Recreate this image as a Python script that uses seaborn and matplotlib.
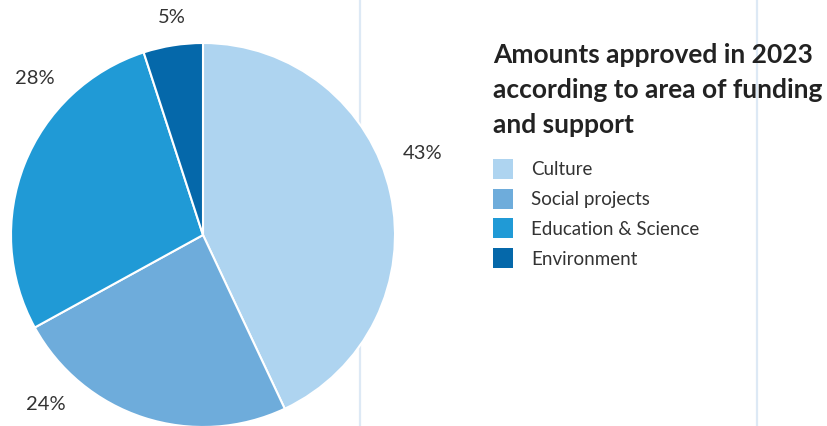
import numpy as np
import matplotlib
matplotlib.use("Agg")
import matplotlib.pyplot as plt
import seaborn as sns
from matplotlib.patches import Rectangle

categories = ["Culture", "Social projects", "Education & Science", "Environment"]
shares = [43, 24, 28, 5]
pct_labels = ["43%", "24%", "28%", "5%"]
colors = ["#aed4f0", "#6eacdb", "#209ad6", "#0568aa"]
title_lines = ["Amounts approved in 2023", "according to area of funding", "and support"]

sns.set_theme(style="white")
plt.rcParams["font.family"] = ["Lato", "DejaVu Sans"]

W, H = 827, 427
fig = plt.figure(figsize=(W / 100, H / 100), dpi=100)

# background axes for guide lines and legend
bg = fig.add_axes([0, 0, 1, 1], zorder=-1)
bg.set_xlim(0, W)
bg.set_ylim(H, 0)
bg.axis("off")
for xv in (360, 757):
    bg.axvline(xv, color="#dde9f5", lw=1.6)

# pie
cx, cy, r = 203, 236, 192
ax = fig.add_axes([(cx - r) / W, (H - cy - r) / H, 2 * r / W, 2 * r / H])
wedges, _ = ax.pie(shares, colors=colors, startangle=90, counterclock=False,
                   wedgeprops=dict(edgecolor="white", linewidth=1.5))
ax.set_xlim(-1, 1)
ax.set_ylim(-1, 1)
ax.set_aspect("equal")
ax.axis("off")

# label placement (angle in degrees, radius) per wedge
label_pos = [(20.5, 1.22), (-133, 1.2), (137, 1.2), (98, 1.15)]
for txt, (ang, rad) in zip(pct_labels, label_pos):
    a = np.deg2rad(ang)
    ax.text(rad * np.cos(a), rad * np.sin(a), txt, ha="center", va="center",
            fontsize=14.5, color="#333333", clip_on=False)

# title
for i, line in enumerate(title_lines):
    bg.text(493, 63 + i * 35, line, ha="left", va="baseline", fontsize=19,
            fontweight="bold", color="#222222")

# legend
for i, (cat, col) in enumerate(zip(categories, colors)):
    yc = 170 + i * 29.7
    bg.add_patch(Rectangle((493, yc - 10), 20, 20, facecolor=col, edgecolor="none"))
    bg.text(531, yc, cat, ha="left", va="center", fontsize=13.5, color="#333333")

fig.savefig("out.png", dpi=100)
